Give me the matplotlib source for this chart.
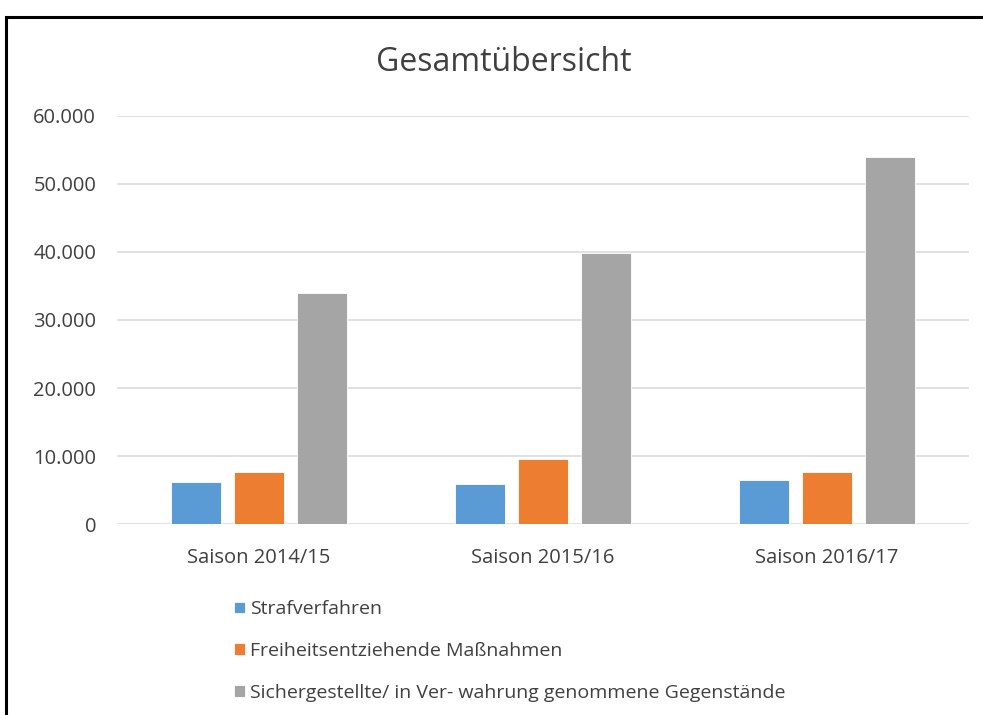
import numpy as np
import matplotlib
matplotlib.use("Agg")
import matplotlib.pyplot as plt
from matplotlib.patches import Rectangle
from matplotlib.ticker import FuncFormatter

plt.rcParams['font.family'] = ['Open Sans', 'DejaVu Sans']

# data
seasons = ["Saison 2014/15", "Saison 2015/16", "Saison 2016/17"]
strafverfahren = [6200, 5850, 6450]
freiheit = [7600, 9600, 7700]
gegenstaende = [34000, 39800, 53900]
series_names = ["Strafverfahren",
                "Freiheitsentziehende Maßnahmen",
                "Sichergestellte/ in Ver- wahrung genommene Gegenstände"]
colors = ["#5B9BD5", "#ED7D31", "#A5A5A5"]

fig = plt.figure(figsize=(9.83, 7.15), dpi=100)
ax = fig.add_axes([0.119, 0.2671, 0.8668, 0.5707])

x = np.arange(len(seasons))
w = 0.176
step = 0.223
handles = []
for i, (vals, c) in enumerate(zip([strafverfahren, freiheit, gegenstaende], colors)):
    b = ax.bar(x + (i - 1) * step, vals, width=w, color=c, zorder=3,
               edgecolor="white", linewidth=0.6)
    handles.append(b)

ax.set_xlim(-0.5, 2.5)
ax.set_ylim(0, 60000)
ax.set_yticks(np.arange(0, 60001, 10000))
ax.yaxis.set_major_formatter(FuncFormatter(lambda v, p: f"{int(v):,}".replace(",", ".")))
ax.set_xticks(x)
ax.set_xticklabels(seasons)
ax.grid(axis="y", color="#d9d9d9", linewidth=1.1, zorder=0)
for s in ax.spines.values():
    s.set_visible(False)
ax.tick_params(axis="both", length=0, labelsize=14.5, labelcolor="#404040")
ax.tick_params(axis="y", pad=15)
ax.tick_params(axis="x", pad=17)

fig.text(0.512, 0.913, "Gesamtübersicht", ha="center", va="center",
         fontsize=23, color="#404040")

fig.legend(handles, series_names, loc="upper left",
           bbox_to_anchor=(0.228, 0.174), frameon=False, fontsize=14,
           handlelength=0.55, handleheight=0.55, handletextpad=0.3,
           labelspacing=1.22, borderpad=0, labelcolor="#404040")

# black frame around the chart, running off the right and bottom edges
fig.patches.append(Rectangle((6 / 983, -0.05), 1.1, 0.05 + 1 - 17 / 715,
                             transform=fig.transFigure, fill=False,
                             edgecolor="black", linewidth=2.2))

fig.savefig("out.png", dpi=100, facecolor="white")
